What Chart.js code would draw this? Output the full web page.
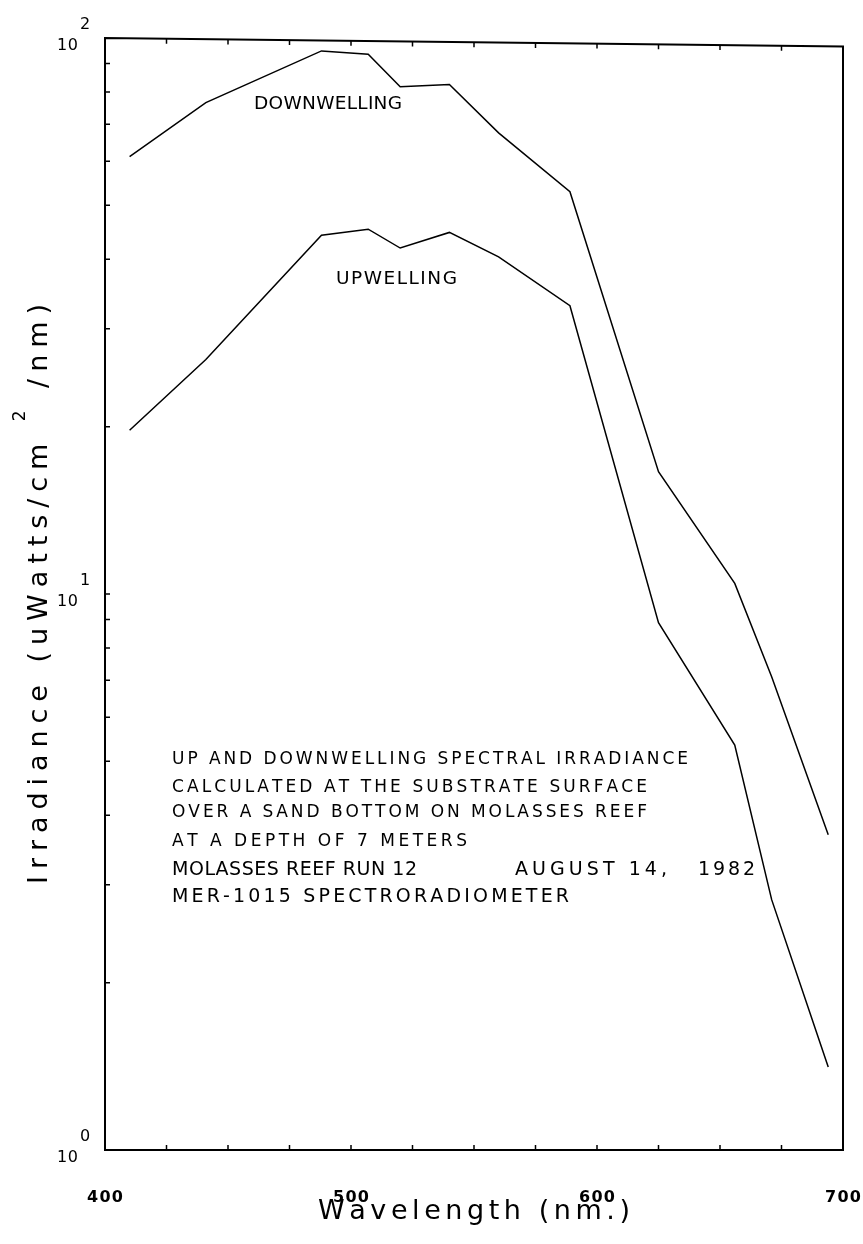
<!DOCTYPE html>
<html><head><meta charset="utf-8">
<script src="https://cdn.jsdelivr.net/npm/chart.js@4.4.0/dist/chart.umd.min.js"></script>
<style>html,body{margin:0;padding:0;background:#fff;}canvas{display:block;}</style>
</head><body>
<canvas id="c" width="863" height="1244"></canvas>
<script>
// ---- data ----
const wavelengths = [410, 441, 488, 507, 520, 540, 560, 589, 625, 656, 671, 694];
const downwelling = [61.2, 76.5, 94.8, 93.5, 81.7, 82.5, 67.5, 52.9, 16.6, 10.45, 7.1, 3.69];
const upwelling   = [19.7, 26.4, 44.2, 45.3, 41.9, 44.7, 40.4, 33.0, 8.88, 5.35, 2.82, 1.41];
const xTickValues = [400, 500, 600, 700];
const yTickValues = [1, 10, 100];
const yTickExponents = ['0', '1', '2'];
const xMinorStep = 25;
const curveLabels = ['DOWNWELLING', 'UPWELLING'];
const curveLabelAnchors = [[460.6, 74.5], [493.9, 36.1]];
const noteLines = [
  'UP AND DOWNWELLING SPECTRAL IRRADIANCE',
  'CALCULATED AT THE SUBSTRATE SURFACE',
  'OVER A SAND BOTTOM ON MOLASSES REEF',
  'AT A DEPTH OF 7 METERS',
  ['MOLASSES REEF RUN 12', 'AUGUST 14,', '1982'],
  'MER-1015 SPECTRORADIOMETER'
];
const xTitle = 'Wavelength (nm.)';
const yTitleParts = ['Irradiance (uWatts/cm ', '2', ' /nm)'];

// ---- helpers ----
function drawFit(ctx, str, x, y, font, width, align) {
  ctx.font = font;
  const chars = [...str];
  const w = chars.map(c => ctx.measureText(c).width);
  const nat = w.reduce((a, b) => a + b, 0);
  const total = width != null ? width : nat;
  const extra = (width != null && chars.length > 1) ? (width - nat) / (chars.length - 1) : 0;
  let cx = align === 'center' ? x - total / 2 : align === 'right' ? x - total : x;
  ctx.textAlign = 'left';
  ctx.textBaseline = 'alphabetic';
  chars.forEach((c, i) => { ctx.fillText(c, cx, y); cx += w[i] + extra; });
}

const FONT = '"DejaVu Sans", sans-serif';
const TOP_SLOPE = 0.0114; // the scanned frame's top edge is slightly tilted

const decor = {
  id: 'decor',
  afterDraw(chart) {
    const ctx = chart.ctx;
    const a = chart.chartArea;
    const xs = chart.scales.x, ys = chart.scales.y;
    const topAt = px => a.top + (px - a.left) * TOP_SLOPE;
    ctx.save();
    ctx.strokeStyle = '#000';
    ctx.fillStyle = '#000';
    ctx.lineCap = 'square';
    // frame
    ctx.lineWidth = 2;
    ctx.beginPath();
    ctx.moveTo(a.left, a.bottom);
    ctx.lineTo(a.left, topAt(a.left));
    ctx.lineTo(a.right, topAt(a.right));
    ctx.lineTo(a.right, a.bottom);
    ctx.closePath();
    ctx.stroke();
    // x minor ticks (top & bottom)
    ctx.lineWidth = 1.5;
    ctx.lineCap = 'butt';
    ctx.beginPath();
    for (let v = xs.min + xMinorStep; v < xs.max; v += xMinorStep) {
      const px = xs.getPixelForValue(v);
      ctx.moveTo(px, a.bottom); ctx.lineTo(px, a.bottom - 5);
      ctx.moveTo(px, topAt(px)); ctx.lineTo(px, topAt(px) + 5);
    }
    // y minor ticks (left, log)
    for (let d = 1; d < 100; d *= 10) {
      for (let m = 1; m <= 9; m++) {
        const v = d * m;
        if (v <= ys.min || v >= ys.max) continue;
        const py = ys.getPixelForValue(v);
        ctx.moveTo(a.left, py); ctx.lineTo(a.left + 5, py);
      }
    }
    ctx.stroke();

    // x tick labels
    xTickValues.forEach(v => {
      drawFit(ctx, String(v), xs.getPixelForValue(v), a.bottom + 52, 'bold 16px ' + FONT, 36, 'center');
    });
    // y tick labels 10^n
    yTickValues.forEach((v, i) => {
      const py = ys.getPixelForValue(v);
      drawFit(ctx, '10', a.left - 27, py + 12, '16px ' + FONT, 21, 'right');
      drawFit(ctx, yTickExponents[i], a.left - 25, py - 9, '16px ' + FONT, null, 'left');
    });

    // curve labels
    curveLabels.forEach((t, i) => {
      const px = xs.getPixelForValue(curveLabelAnchors[i][0]);
      const py = ys.getPixelForValue(curveLabelAnchors[i][1]);
      const wid = t === 'DOWNWELLING' ? 148 : 121;
      drawFit(ctx, t, px, py, '18.5px ' + FONT, wid, 'left');
    });

    // notes block
    const noteX = 172;
    const base = [764, 792, 817, 846, 875, 902];
    const widths = [516, 475, 475, 295, null, 397];
    const small = '17px ' + FONT, big = '19px ' + FONT;
    noteLines.forEach((ln, i) => {
      if (Array.isArray(ln)) {
        drawFit(ctx, ln[0], noteX, base[i], big, 245, 'left');
        drawFit(ctx, ln[1], 515, base[i], big, 152, 'left');
        drawFit(ctx, ln[2], 698, base[i], big, 57, 'left');
      } else {
        drawFit(ctx, ln, noteX, base[i], i >= 4 ? big : small, widths[i], 'left');
      }
    });

    // x title
    const cx = (a.left + a.right) / 2;
    drawFit(ctx, xTitle, cx, 1219, '27px ' + FONT, 312, 'center');

    // y title (rotated)
    ctx.save();
    const cy = (a.top + a.bottom) / 2;
    const totalW = 580;
    ctx.translate(47, cy + totalW / 2);
    ctx.rotate(-Math.PI / 2);
    const mainFont = '27px ' + FONT, supFont = '17px ' + FONT;
    const allChars = [];
    yTitleParts.forEach((p, k) => [...p].forEach(c => allChars.push({ c, sup: k === 1 })));
    const ws = allChars.map(o => { ctx.font = o.sup ? supFont : mainFont; return ctx.measureText(o.c).width; });
    const nat = ws.reduce((s, v) => s + v, 0);
    const extra = (totalW - nat) / (allChars.length - 1);
    let x = 0;
    ctx.textBaseline = 'alphabetic'; ctx.textAlign = 'left';
    allChars.forEach((o, i) => {
      ctx.font = o.sup ? supFont : mainFont;
      ctx.fillText(o.c, x, o.sup ? -22 : 0);
      x += ws[i] + extra;
    });
    ctx.restore();
    ctx.restore();
  }
};

const ctx = document.getElementById('c').getContext('2d');
new Chart(ctx, {
  type: 'line',
  data: {
    datasets: [
      { label: 'Downwelling', data: wavelengths.map((w, i) => ({ x: w, y: downwelling[i] })),
        borderColor: '#000', borderWidth: 1.5, pointRadius: 0, tension: 0, fill: false },
      { label: 'Upwelling', data: wavelengths.map((w, i) => ({ x: w, y: upwelling[i] })),
        borderColor: '#000', borderWidth: 1.5, pointRadius: 0, tension: 0, fill: false }
    ]
  },
  options: {
    responsive: false, animation: false, devicePixelRatio: 1,
    layout: { padding: { left: 105, top: 38, right: 20, bottom: 94 } },
    plugins: { legend: { display: false }, tooltip: { enabled: false } },
    scales: {
      x: { type: 'linear', min: 400, max: 700, grid: { display: false, drawTicks: false },
           border: { display: false }, ticks: { display: false } },
      y: { type: 'logarithmic', min: 1, max: 100, grid: { display: false, drawTicks: false },
           border: { display: false }, ticks: { display: false } }
    }
  },
  plugins: [decor]
});
</script>
</body></html>
